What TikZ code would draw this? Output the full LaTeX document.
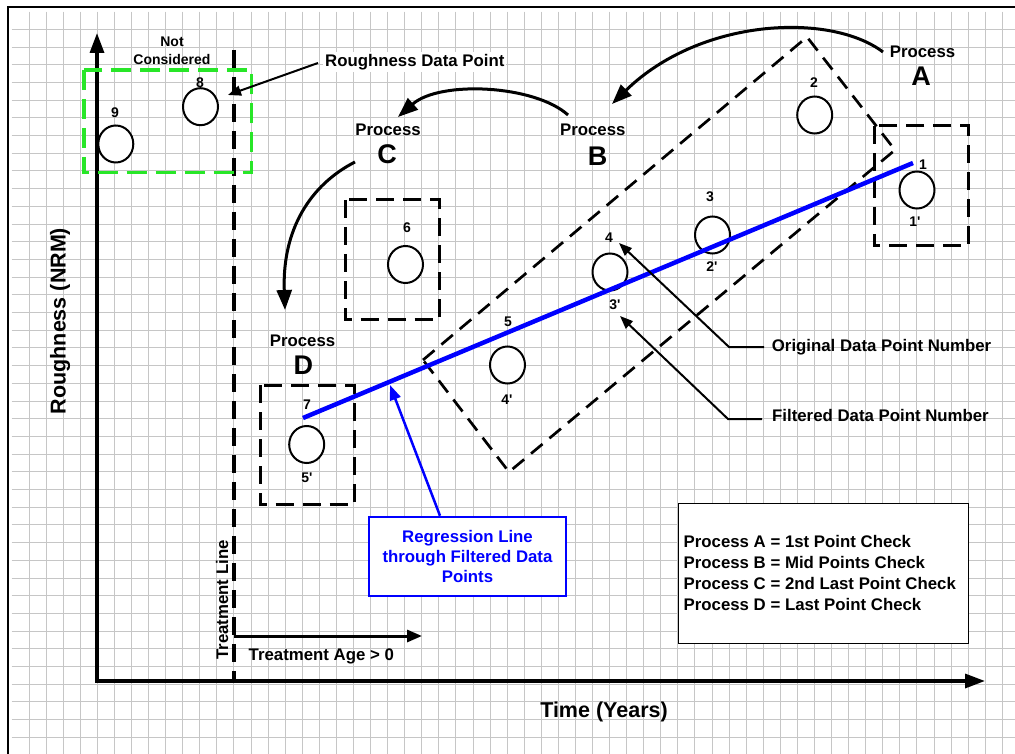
\documentclass[tikz,border=0pt]{standalone}
\usepackage{fontspec}
\setmainfont{Liberation Sans}
\usetikzlibrary{arrows.meta,shapes.geometric}
\definecolor{gridgray}{RGB}{198,198,198}
\definecolor{brightgreen}{RGB}{40,230,40}
\definecolor{pureblue}{RGB}{0,0,255}
\newcommand\sq{\textquotesingle}
\tikzset{
  gridline/.style={draw=gridgray, line width=0.9pt},
  lbl/.style={font=\bfseries\fontsize{16.8pt}{20pt}\selectfont, inner sep=1pt},
  axlbl/.style={font=\bfseries\fontsize{21.5pt}{24pt}\selectfont, inner sep=0pt},
  num/.style={font=\bfseries\fontsize{14pt}{17.7pt}\selectfont, inner sep=0pt},
  bigletter/.style={font=\bfseries\fontsize{27pt}{30pt}\selectfont, inner sep=0pt},
  datapt/.style={ellipse, draw, fill=white, line width=2pt, minimum width=35pt, minimum height=37pt, inner sep=0pt},
  dbox/.style={draw, line width=3pt, dash pattern=on 18pt off 9pt},
  rotbox/.style={draw, line width=2.7pt, dash pattern=on 15pt off 9pt},
  gbox/.style={draw=brightgreen, line width=3.3pt, dash pattern=on 20pt off 9pt},
  axis/.style={line width=3.3pt, -{Triangle[length=20pt,width=14pt]}},
  curvearrow/.style={line width=3pt, -{Triangle[length=20pt,width=15pt]}},
  thinarrow/.style={line width=2pt, -{Triangle[length=13pt,width=10pt]}},
  bluearrow/.style={draw=pureblue, line width=2.5pt, -{Triangle[length=15pt,width=11pt]}},
}
\begin{document}
\begin{tikzpicture}[x=1pt,y=-1pt]
\useasboundingbox (0,0) rectangle (1015,754);
\fill[white] (0,0) rectangle (1015,754);
% grid
\foreach \i in {0,...,57} \draw[gridline] ({29+17.075*\i},11.7) -- ({29+17.075*\i},754);
\foreach \j in {0,...,40} \draw[gridline] (11.7,{29.3+17.7*\j}) -- (1015,{29.3+17.7*\j});
% border
\draw[line width=2.2pt] (8.3,754) -- (8.3,6.7) -- (1015,6.7);

% axes
\coordinate (origin) at (97,681);
\coordinate (ytip) at (97,33);
\coordinate (xtip) at (985,681);
\draw[axis] (origin) -- (ytip);
\draw[axis] ([xshift=-1.6pt]origin) -- (xtip);
\node[axlbl, rotate=90] (ylab) at (60,321) {Roughness (NRM)};
\node[axlbl] (xlab) at (604,711.7) {Time (Years)};

% treatment line
\coordinate (tltop) at (234,50);
\coordinate (tlbot) at (234,681);
\draw[line width=3.3pt, dash pattern=on 18pt off 9pt] (tltop) -- (tlbot);
\coordinate (tastart) at (234,636);
\coordinate (taend) at (422,636);
\draw[line width=3pt, -{Triangle[length=15pt,width=12pt]}] (tastart) -- (taend);
\node[lbl, rotate=90] (tllab) at (222,600) {Treatment Line};
\node[lbl] (talab) at (321.3,656) {Treatment Age > 0};

% green box (not considered)
\draw[gbox] (84,70) rectangle (251.7,172.3);
\node[num, align=center] (nc) at (172,51) {Not\\Considered};

% rotated dashed box (process B)
\coordinate (rb1) at (423,360);
\coordinate (rb2) at (807,37);
\coordinate (rb3) at (895,150);
\coordinate (rb4) at (509,472);
\draw[rotbox] (rb1) -- (rb2) -- (rb3) -- (rb4) -- cycle;

% dashed boxes
\draw[dbox] (874.3,126) rectangle (968.3,246);
\draw[dbox] (345,200) rectangle (439,319.3);
\draw[dbox] (260,385) rectangle (354,504.3);

% data points
\node[datapt] (p9) at (115.8,144) {};
\node[datapt] (p8) at (200.5,106.7) {};
\node[datapt] (p2) at (814.7,115) {};
\node[datapt] (p1) at (917,190) {};
\node[datapt] (p3) at (712.5,235) {};
\node[datapt] (p4) at (610,272) {};
\node[datapt] (p5) at (507.5,365) {};
\node[datapt] (p6) at (405.5,264.5) {};
\node[datapt] (p7) at (306.7,444.5) {};

% regression line
\coordinate (rlstart) at (303,418);
\coordinate (rlend) at (913,163);
\draw[draw=pureblue, line width=4.5pt] (rlstart) -- (rlend);

% point labels
\node[num] (l9) at (115,113) {9};
\node[num] (l8) at (200,83) {8};
\node[num] (l2) at (814,83) {2};
\node[num] (l1) at (923,165) {1};
\node[num] (l1f) at (915,222) {1\sq};
\node[num] (l3) at (710,197) {3};
\node[num] (l2f) at (712,267) {2\sq};
\node[num] (l4) at (609,238) {4};
\node[num] (l3f) at (615,305) {3\sq};
\node[num] (l5) at (508,322) {5};
\node[num] (l4f) at (507,400) {4\sq};
\node[num] (l6) at (407,228) {6};
\node[num] (l7) at (307,405) {7};
\node[num] (l5f) at (307,478) {5\sq};

% process labels
\node[lbl] (procA) at (922.5,52.3) {Process};
\node[bigletter] (letA) at (921,76.7) {A};
\node[lbl] (procB) at (592.8,130) {Process};
\node[bigletter] (letB) at (597.5,156.7) {B};
\node[lbl] (procC) at (388,130) {Process};
\node[bigletter] (letC) at (387,154.3) {C};
\node[lbl] (procD) at (302.5,341) {Process};
\node[bigletter] (letD) at (303.3,365) {D};

% curved arrows between processes
\coordinate (aBs) at (883,52);
\coordinate (aBe) at (612,104);
\draw[curvearrow] (aBs) .. controls (830,12) and (700,18) .. (aBe);
\coordinate (aCs) at (568,115);
\coordinate (aCe) at (398,117);
\draw[curvearrow] (aCs) .. controls (535,85) and (440,80) .. (aCe);
\coordinate (aDs) at (355,162);
\coordinate (aDe) at (285,310);
\draw[curvearrow] (aDs) .. controls (310,185) and (282,230) .. (aDe);

% roughness data point callout
\node[lbl, fill=white, anchor=west, inner sep=2pt] (rdp) at (323,62) {Roughness Data Point};
\coordinate (rdps) at (318,63);
\coordinate (rdpe) at (228,95);
\draw[thinarrow] (rdps) -- (rdpe);

% original / filtered callouts
\node[lbl, anchor=west] (odp) at (770.7,346.7) {Original Data Point Number};
\coordinate (odps) at (764,347);
\coordinate (odpk) at (729,347);
\coordinate (odpe) at (619,243);
\draw[thinarrow] (odps) -- (odpk) -- (odpe);
\node[lbl, anchor=west] (fdp) at (771,415) {Filtered Data Point Number};
\coordinate (fdps) at (762,419);
\coordinate (fdpk) at (728,419);
\coordinate (fdpe) at (620,316);
\draw[thinarrow] (fdps) -- (fdpk) -- (fdpe);

% regression callout box
\node[draw=pureblue, line width=2.5pt, fill=white, minimum width=197pt, minimum height=79pt,
      text=pureblue, lbl, align=center] (regbox) at (467.5,556.5)
      {Regression Line\\through Filtered Data\\Points};
\coordinate (regtip) at (390,385);
\draw[bluearrow] ([xshift=-27.5pt]regbox.north) -- (regtip);

% legend
\node[draw, line width=1pt, fill=white, minimum width=290pt, minimum height=140pt] (legbox) at (823,573) {};
\node[font=\bfseries\fontsize{16.8pt}{21pt}\selectfont, align=left, anchor=west, inner sep=0pt] (legtext) at (683.5,573)
  {Process A = 1st Point Check\\Process B = Mid Points Check\\Process C = 2nd Last Point Check\\Process D = Last Point Check};
\end{tikzpicture}
\end{document}
